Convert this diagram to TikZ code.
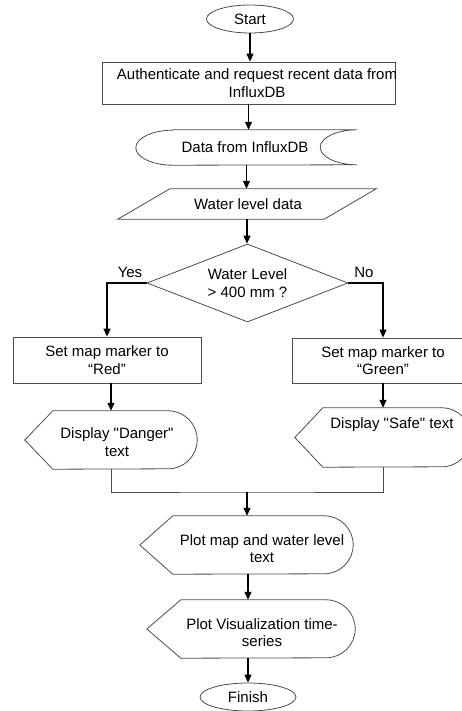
\documentclass[tikz,border=0pt]{standalone}
\usepackage{fontspec}
\setmainfont{Liberation Sans}
\usetikzlibrary{shapes.geometric, arrows.meta, calc, positioning}

\begin{document}
\begin{tikzpicture}[
    % GLOBAL CFG
    x=1pt, y=-1pt,
    font=\fontsize{15}{17.5}\selectfont,
    >={Triangle[length=8pt,width=7pt]},
    % Styles
    terminal/.style={% For start and finish
        ellipse,
        draw=black!70,
        line width=.8pt,
        inner sep=0pt,
        },
    process/.style={% For the plain boxes
        rectangle,
        draw=black!70,
        line width=.8pt,
        align=center,
        },
    decision/.style={% For the test
        diamond,
        draw=black!70,
        line width=.8pt,
        aspect=2.58,
        inner sep=0pt,
        align=center,
        },
    outline/.style={% For shapes drawn by hand
        draw=black!70,
        line width=.8pt,
        },
    mytext/.style={% Text put on top of hand drawn shapes
        align=center,
        inner sep=0pt,
        },
    ArrowF/.style={% Arrows of the flow
        ->,
        draw=black,
        line width=1.2pt,
        },
    LineF/.style={% Lines joining branches
        draw=black!70,
        line width=.9pt,
        },
    ]

    \useasboundingbox (0,0) rectangle (461,711);

%Start drawing the thing...
    % Draw terminals and boxes
    \node [terminal, minimum width=87, minimum height=28] (start) at (250,19) {Start};
    \node [process, minimum width=293, minimum height=42] (auth) at (248.5,83) {};
    \node [mytext] (authtxt) at (257,83) {Authenticate and request recent data from\\InfluxDB};

    % Stored data shape
    \node [minimum width=221, minimum height=35] (data) at (246.5,147.5) {};
    \node [mytext] (datatxt) at (245,147.5) {Data from InfluxDB};
    \draw [outline] ($(data.north west)+(37,0)$) -- (data.north east)
        arc[start angle=90, end angle=270, x radius=37pt, y radius=17.5pt]
        -- ($(data.south west)+(37,0)$)
        arc[start angle=270, end angle=90, x radius=37pt, y radius=17.5pt] -- cycle;

    % Input shape
    \node [minimum width=258, minimum height=30] (water) at (247,204) {};
    \node [mytext] (watertxt) at (248,204) {Water level data};
    \draw [outline] (water.south west) -- ($(water.north west)+(52,0)$)
        -- (water.north east) -- ($(water.south east)+(-52,0)$) -- cycle;

    % Test
    \node [decision, minimum width=201, minimum height=78] (dec) at (247.5,283) {Water Level\\> 400 mm ?};
    \node (yes) at (130,272) {Yes};
    \node (no) at (364,272) {No};

    % Branch boxes
    \node [process, minimum width=188, minimum height=46] (redbox) at (107,360) {Set map marker to\\“Red”};
    \node [process, minimum width=182, minimum height=45] (greenbox) at (383,360.5) {Set map marker to\\“Green”};

    % Display shapes named as basis danger, safe, plotmap, plotvis
    \node [minimum width=172, minimum height=58] (danger) at (111,440) {};
    \node [mytext] (dangertxt) at (117,442) {Display \textquotedbl Danger\textquotedbl\\text};
    \draw [outline] (danger.west) -- ($(danger.north west)+(28,0)$)
        -- ($(danger.north east)+(-29,0)$) arc[start angle=90, end angle=-90, radius=29pt]
        -- ($(danger.south west)+(28,0)$) -- cycle;

    \node [minimum width=176, minimum height=59] (safe) at (383,437.5) {};
    \node [mytext] (safetxt) at (392,425) {Display \textquotedbl Safe\textquotedbl{} text};
    \draw [outline] (safe.west) -- ($(safe.north west)+(28,0)$)
        -- ($(safe.north east)+(-29.5,0)$) arc[start angle=90, end angle=-90, radius=29.5pt]
        -- ($(safe.south west)+(28,0)$) -- cycle;

    \node [minimum width=213, minimum height=58] (plotmap) at (246.5,545) {};
    \node [mytext] (plotmaptxt) at (262,548.5) {Plot map and water level\\text};
    \draw [outline] (plotmap.west) -- ($(plotmap.north west)+(33,0)$)
        -- ($(plotmap.north east)+(-29,0)$) arc[start angle=90, end angle=-90, radius=29pt]
        -- ($(plotmap.south west)+(33,0)$) -- cycle;

    \node [minimum width=208, minimum height=58] (plotvis) at (251,629) {};
    \node [mytext] (plotvistxt) at (262,632.5) {Plot Visualization time-\\series};
    \draw [outline] (plotvis.west) -- ($(plotvis.north west)+(34,0)$)
        -- ($(plotvis.north east)+(-29,0)$) arc[start angle=90, end angle=-90, radius=29pt]
        -- ($(plotvis.south west)+(34,0)$) -- cycle;

    \node [terminal, minimum width=96, minimum height=28] (finish) at (248,697) {Finish};

% Start connecting all.
    \draw [ArrowF] (start.south) -- (start.south |- auth.north);
    \draw [ArrowF] (auth.south) -- (auth.south |- data.north);
    \draw [ArrowF] (data.south) -- (data.south |- water.north);
    \draw [ArrowF] (water.south) -- (water.south |- dec.north);

    % Branches
    \draw [ArrowF] (dec.west) -| (redbox.north);
    \draw [ArrowF] (dec.east) -| (greenbox.north);
    \draw [ArrowF] (danger.north |- redbox.south) -- (danger.north);
    \draw [ArrowF] (safe.north |- greenbox.south) -- (safe.north);

    % Join
    \coordinate (merge) at (247,492);
    \draw [LineF] (danger.south) |- (merge) -| (safe.south);
    \draw [ArrowF] (merge) -- (merge |- plotmap.north);
    \draw [ArrowF] (finish |- plotmap.south) -- (finish |- plotvis.north);
    \draw [ArrowF] (finish |- plotvis.south) -- (finish.north);

\end{tikzpicture}
\end{document}
